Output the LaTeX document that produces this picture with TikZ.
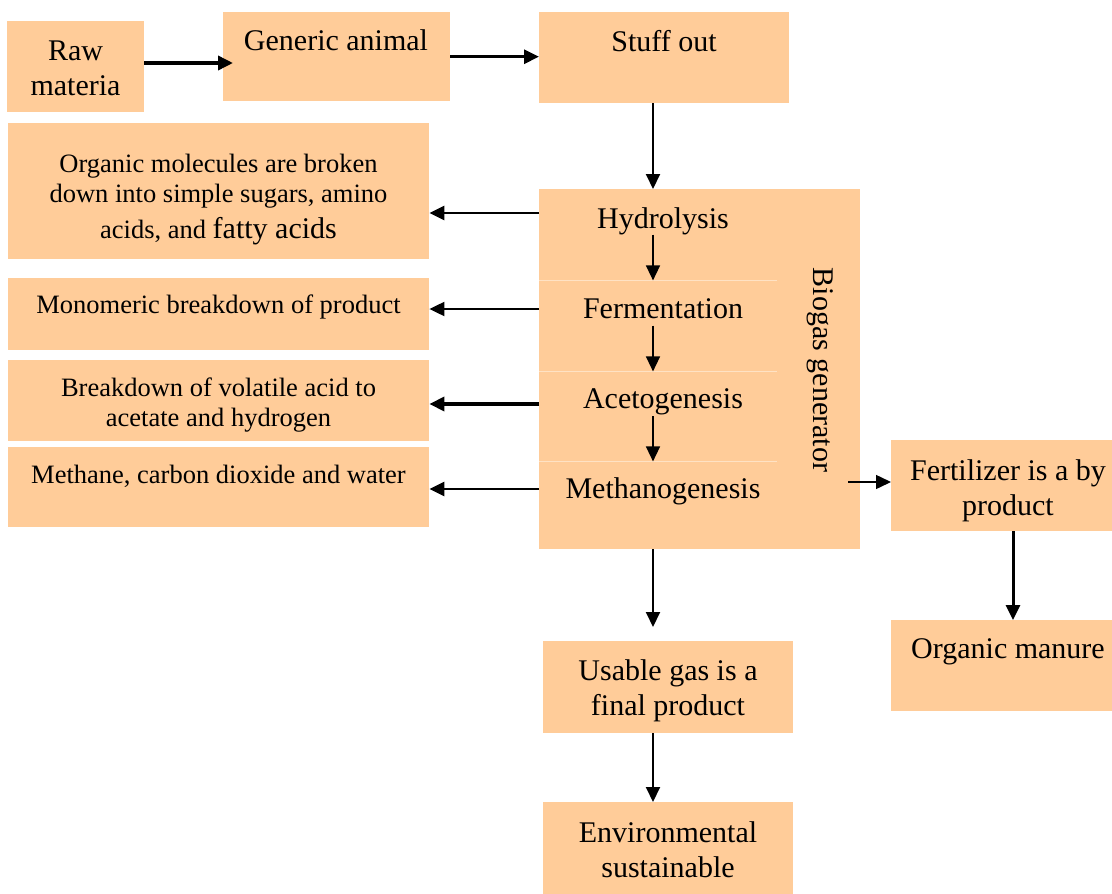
\documentclass[tikz,border=0pt]{standalone}
\usepackage{fontspec}
\setmainfont{Liberation Serif}
\usetikzlibrary{arrows.meta}
\definecolor{peach}{HTML}{FFCC99}
\definecolor{divline}{HTML}{FFE2C4}
\newcommand\bigf{\fontsize{30}{35}\selectfont}
\newcommand\smf{\fontsize{26.5}{30}\selectfont}
\tikzset{
  box/.style={fill=peach, draw=none, inner sep=0pt, anchor=north west},
  cell/.style={draw=none, inner sep=0pt, anchor=north west},
  tbig/.style={inner sep=0pt, anchor=north, align=center, font=\bigf},
  tsmall/.style={inner sep=0pt, anchor=north, align=center, font=\smf},
  arr/.style={-{Triangle[length=15pt,width=14pt]}, black},
  divider/.style={draw=divline, line width=0.8pt}
}
\begin{document}
\begin{tikzpicture}[x=1pt,y=-1pt]
\useasboundingbox (0,0) rectangle (1112,894);
% boxes
\node[box, minimum width=137pt, minimum height=91pt] (raw) at (7,21) {};
\node[box, minimum width=227pt, minimum height=89pt] (gen) at (223,12) {};
\node[box, minimum width=250pt, minimum height=91pt] (stuff) at (539,12) {};
\node[box, minimum width=421pt, minimum height=136pt] (org) at (8,123) {};
\node[box, minimum width=421pt, minimum height=72pt] (mono) at (8,278) {};
\node[box, minimum width=421pt, minimum height=81pt] (brk) at (8,360) {};
\node[box, minimum width=421pt, minimum height=80pt] (meth) at (8,447) {};
\node[box, minimum width=321pt, minimum height=360pt] (bio) at (539,189) {};
\node[cell, minimum width=238pt, minimum height=91pt] (hyd) at (539,189) {};
\node[cell, minimum width=238pt, minimum height=91pt] (fer) at (539,280) {};
\node[cell, minimum width=238pt, minimum height=90pt] (ace) at (539,371) {};
\node[cell, minimum width=238pt, minimum height=88pt] (met) at (539,461) {};
\node[box, minimum width=221pt, minimum height=91pt] (fert) at (891,440) {};
\node[box, minimum width=221pt, minimum height=91pt] (man) at (891,620) {};
\node[box, minimum width=250pt, minimum height=92pt] (use) at (543,641) {};
\node[box, minimum width=250pt, minimum height=92pt] (env) at (543,802) {};
% dividers inside the biogas generator
\draw[divider] (hyd.south west) -- (hyd.south east);
\draw[divider] (fer.south west) -- (fer.south east);
\draw[divider] (ace.south west) -- (ace.south east);
% texts
\node[tbig] (traw) at (75.5,35.5) {\strut Raw\\\strut materia};
\node[tbig] (tgen) at (336,25.5) {\strut Generic animal};
\node[tbig] (tstuff) at (664,26.5) {\strut Stuff out};
\node[tsmall] (torg) at (218.5,151) {\strut Organic molecules are broken\\\strut down into simple sugars, amino\\[5pt]\strut acids, and {\bigf fatty acids}};
\node[tsmall] (tmono) at (218.5,292) {\strut Monomeric breakdown of product};
\node[tsmall] (tbrk) at (218.5,375) {\strut Breakdown of volatile acid to\\\strut acetate and hydrogen};
\node[tsmall] (tmeth) at (218.5,462) {\strut Methane, carbon dioxide and water};
\node[tbig] (thyd) at (663,203.5) {\strut Hydrolysis};
\node[tbig] (tfer) at (663,293.5) {\strut Fermentation};
\node[tbig] (tace) at (663,383.5) {\strut Acetogenesis};
\node[tbig] (tmet) at (663,473.5) {\strut Methanogenesis};
\node[font=\bigf, inner sep=0pt, anchor=base, rotate=-90] (tbio) at (813,370) {Biogas generator};
\node[tbig] (tfert) at (1008,455.5) {\strut Fertilizer is a by\\\strut product};
\node[tbig] (tman) at (1008,633.5) {\strut Organic manure};
\node[tbig] (tuse) at (668,655.5) {\strut Usable gas is a\\\strut final product};
\node[tbig] (tenv) at (668,817.5) {\strut Environmental\\\strut sustainable};
% helper coordinates
\coordinate (ax) at (653,0);
\coordinate (fx) at (1013,0);
\coordinate (a1) at (144,63);
\coordinate (r1) at (539,213);
\coordinate (r2) at (539,309);
\coordinate (r3) at (539,404);
\coordinate (r4) at (539,489);
\coordinate (bo) at (848,482);
% connectors
\draw[arr, line width=3.5pt, shorten >=-10pt] (a1) -- (a1 -| gen.west);
\draw[arr, line width=3pt] (gen.east) -- (gen.east -| stuff.west);
\draw[arr, line width=2pt] (ax |- stuff.south) -- (ax |- bio.north);
\draw[arr, line width=1.5pt] (ax |- hyd.center) -- (ax |- hyd.south);
\draw[arr, line width=1.5pt] (ax |- fer.center) -- (ax |- fer.south);
\draw[arr, line width=1.5pt] (ax |- ace.center) -- (ax |- ace.south);
\draw[arr, line width=2.5pt] (r1) -- (r1 -| org.east);
\draw[arr, line width=2pt] (r2) -- (r2 -| mono.east);
\draw[arr, line width=3.5pt] (r3) -- (r3 -| brk.east);
\draw[arr, line width=2.5pt] (r4) -- (r4 -| meth.east);
\draw[arr, line width=1.5pt] (bo) -- (bo -| fert.west);
\draw[arr, line width=3pt] (fx |- fert.south) -- (fx |- man.north);
\draw[arr, line width=2pt, shorten >=14pt] (ax |- bio.south) -- (ax |- use.north);
\draw[arr, line width=2pt] (ax |- use.south) -- (ax |- env.north);
\end{tikzpicture}
\end{document}
